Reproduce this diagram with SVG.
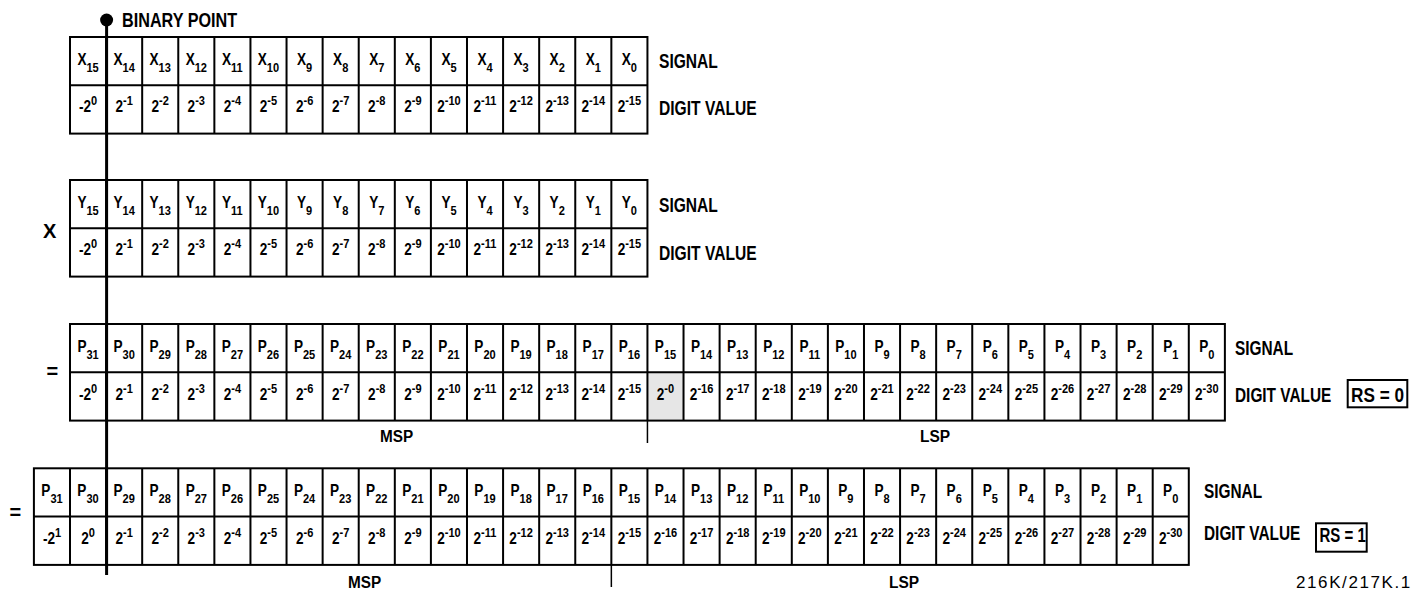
<svg xmlns="http://www.w3.org/2000/svg" xmlns:xlink="http://www.w3.org/1999/xlink" width="1419" height="593" viewBox="0 0 1419 593">
<style>
.g{fill:none;stroke:#000;stroke-width:2}
.c{font-family:"Liberation Sans",Arial,sans-serif;font-weight:bold;font-size:16px;text-anchor:middle;fill:#000}
.s{font-size:13px}
.b{font-family:"Liberation Sans",Arial,sans-serif;font-weight:bold;font-size:20px;fill:#000}
.m{font-size:17px}
.n{font-family:"Liberation Sans",Arial,sans-serif;font-size:17px;letter-spacing:1.6px;fill:#000}
</style>
<defs>
<path id="v16" fill="none" stroke="#000" stroke-width="2" d="M36.09 0v96.6M72.18 0v96.6M108.27 0v96.6M144.36 0v96.6M180.45 0v96.6M216.54 0v96.6M252.63 0v96.6M288.72 0v96.6M324.81 0v96.6M360.9 0v96.6M396.99 0v96.6M433.08 0v96.6M469.17 0v96.6M505.26 0v96.6M541.35 0v96.6"/>
</defs>
<rect width="1419" height="593" fill="#fff"/>

<g id="row-x">
<rect class="g" x="70" y="37" width="577.44" height="96.6"/>
<path class="g" d="M70 85.3H647.44"/>
<use href="#v16" xlink:href="#v16" x="70" y="37"/>
<g transform="scale(0.85 1)">
<text class="c" x="103.65" y="65">X<tspan class="s" dy="7">15</tspan></text>
<text class="c" x="146" y="65">X<tspan class="s" dy="7">14</tspan></text>
<text class="c" x="188.47" y="65">X<tspan class="s" dy="7">13</tspan></text>
<text class="c" x="230.94" y="65">X<tspan class="s" dy="7">12</tspan></text>
<text class="c" x="273.41" y="65">X<tspan class="s" dy="7">11</tspan></text>
<text class="c" x="315.88" y="65">X<tspan class="s" dy="7">10</tspan></text>
<text class="c" x="358.35" y="65">X<tspan class="s" dy="7">9</tspan></text>
<text class="c" x="400.82" y="65">X<tspan class="s" dy="7">8</tspan></text>
<text class="c" x="443.29" y="65">X<tspan class="s" dy="7">7</tspan></text>
<text class="c" x="485.76" y="65">X<tspan class="s" dy="7">6</tspan></text>
<text class="c" x="528.24" y="65">X<tspan class="s" dy="7">5</tspan></text>
<text class="c" x="570.59" y="65">X<tspan class="s" dy="7">4</tspan></text>
<text class="c" x="613.06" y="65">X<tspan class="s" dy="7">3</tspan></text>
<text class="c" x="655.53" y="65">X<tspan class="s" dy="7">2</tspan></text>
<text class="c" x="698" y="65">X<tspan class="s" dy="7">1</tspan></text>
<text class="c" x="740.47" y="65">X<tspan class="s" dy="7">0</tspan></text>
<text class="c" x="103.65" y="112">-2<tspan class="s" dy="-7">0</tspan></text>
<text class="c" x="146" y="112">2<tspan class="s" dy="-7">-1</tspan></text>
<text class="c" x="188.47" y="112">2<tspan class="s" dy="-7">-2</tspan></text>
<text class="c" x="230.94" y="112">2<tspan class="s" dy="-7">-3</tspan></text>
<text class="c" x="273.41" y="112">2<tspan class="s" dy="-7">-4</tspan></text>
<text class="c" x="315.88" y="112">2<tspan class="s" dy="-7">-5</tspan></text>
<text class="c" x="358.35" y="112">2<tspan class="s" dy="-7">-6</tspan></text>
<text class="c" x="400.82" y="112">2<tspan class="s" dy="-7">-7</tspan></text>
<text class="c" x="443.29" y="112">2<tspan class="s" dy="-7">-8</tspan></text>
<text class="c" x="485.76" y="112">2<tspan class="s" dy="-7">-9</tspan></text>
<text class="c" x="528.24" y="112">2<tspan class="s" dy="-7">-10</tspan></text>
<text class="c" x="570.59" y="112">2<tspan class="s" dy="-7">-11</tspan></text>
<text class="c" x="613.06" y="112">2<tspan class="s" dy="-7">-12</tspan></text>
<text class="c" x="655.53" y="112">2<tspan class="s" dy="-7">-13</tspan></text>
<text class="c" x="698" y="112">2<tspan class="s" dy="-7">-14</tspan></text>
<text class="c" x="740.47" y="112">2<tspan class="s" dy="-7">-15</tspan></text>
</g>
</g>

<g id="row-y" transform="translate(0,143)">
<rect class="g" x="70" y="37" width="577.44" height="96.6"/>
<path class="g" d="M70 85.3H647.44"/>
<use href="#v16" xlink:href="#v16" x="70" y="37"/>
<g transform="scale(0.85 1)">
<text class="c" x="103.65" y="65">Y<tspan class="s" dy="7">15</tspan></text>
<text class="c" x="146" y="65">Y<tspan class="s" dy="7">14</tspan></text>
<text class="c" x="188.47" y="65">Y<tspan class="s" dy="7">13</tspan></text>
<text class="c" x="230.94" y="65">Y<tspan class="s" dy="7">12</tspan></text>
<text class="c" x="273.41" y="65">Y<tspan class="s" dy="7">11</tspan></text>
<text class="c" x="315.88" y="65">Y<tspan class="s" dy="7">10</tspan></text>
<text class="c" x="358.35" y="65">Y<tspan class="s" dy="7">9</tspan></text>
<text class="c" x="400.82" y="65">Y<tspan class="s" dy="7">8</tspan></text>
<text class="c" x="443.29" y="65">Y<tspan class="s" dy="7">7</tspan></text>
<text class="c" x="485.76" y="65">Y<tspan class="s" dy="7">6</tspan></text>
<text class="c" x="528.24" y="65">Y<tspan class="s" dy="7">5</tspan></text>
<text class="c" x="570.59" y="65">Y<tspan class="s" dy="7">4</tspan></text>
<text class="c" x="613.06" y="65">Y<tspan class="s" dy="7">3</tspan></text>
<text class="c" x="655.53" y="65">Y<tspan class="s" dy="7">2</tspan></text>
<text class="c" x="698" y="65">Y<tspan class="s" dy="7">1</tspan></text>
<text class="c" x="740.47" y="65">Y<tspan class="s" dy="7">0</tspan></text>
<text class="c" x="103.65" y="112">-2<tspan class="s" dy="-7">0</tspan></text>
<text class="c" x="146" y="112">2<tspan class="s" dy="-7">-1</tspan></text>
<text class="c" x="188.47" y="112">2<tspan class="s" dy="-7">-2</tspan></text>
<text class="c" x="230.94" y="112">2<tspan class="s" dy="-7">-3</tspan></text>
<text class="c" x="273.41" y="112">2<tspan class="s" dy="-7">-4</tspan></text>
<text class="c" x="315.88" y="112">2<tspan class="s" dy="-7">-5</tspan></text>
<text class="c" x="358.35" y="112">2<tspan class="s" dy="-7">-6</tspan></text>
<text class="c" x="400.82" y="112">2<tspan class="s" dy="-7">-7</tspan></text>
<text class="c" x="443.29" y="112">2<tspan class="s" dy="-7">-8</tspan></text>
<text class="c" x="485.76" y="112">2<tspan class="s" dy="-7">-9</tspan></text>
<text class="c" x="528.24" y="112">2<tspan class="s" dy="-7">-10</tspan></text>
<text class="c" x="570.59" y="112">2<tspan class="s" dy="-7">-11</tspan></text>
<text class="c" x="613.06" y="112">2<tspan class="s" dy="-7">-12</tspan></text>
<text class="c" x="655.53" y="112">2<tspan class="s" dy="-7">-13</tspan></text>
<text class="c" x="698" y="112">2<tspan class="s" dy="-7">-14</tspan></text>
<text class="c" x="740.47" y="112">2<tspan class="s" dy="-7">-15</tspan></text>
</g>
</g>

<g id="row-p-rs0">
<rect x="647.44" y="372.3" width="36.09" height="48.3" fill="#e6e6e6"/>
<rect class="g" x="70" y="324" width="1154.88" height="96.6"/>
<path class="g" d="M70 372.3H1224.88M647.44 324v96.6"/>
<use href="#v16" xlink:href="#v16" x="70" y="324"/>
<use href="#v16" xlink:href="#v16" x="647.44" y="324"/>
<g transform="scale(0.85 1)">
<text class="c" x="103.65" y="352">P<tspan class="s" dy="7">31</tspan></text>
<text class="c" x="146" y="352">P<tspan class="s" dy="7">30</tspan></text>
<text class="c" x="188.47" y="352">P<tspan class="s" dy="7">29</tspan></text>
<text class="c" x="230.94" y="352">P<tspan class="s" dy="7">28</tspan></text>
<text class="c" x="273.41" y="352">P<tspan class="s" dy="7">27</tspan></text>
<text class="c" x="315.88" y="352">P<tspan class="s" dy="7">26</tspan></text>
<text class="c" x="358.35" y="352">P<tspan class="s" dy="7">25</tspan></text>
<text class="c" x="400.82" y="352">P<tspan class="s" dy="7">24</tspan></text>
<text class="c" x="443.29" y="352">P<tspan class="s" dy="7">23</tspan></text>
<text class="c" x="485.76" y="352">P<tspan class="s" dy="7">22</tspan></text>
<text class="c" x="528.24" y="352">P<tspan class="s" dy="7">21</tspan></text>
<text class="c" x="570.59" y="352">P<tspan class="s" dy="7">20</tspan></text>
<text class="c" x="613.06" y="352">P<tspan class="s" dy="7">19</tspan></text>
<text class="c" x="655.53" y="352">P<tspan class="s" dy="7">18</tspan></text>
<text class="c" x="698" y="352">P<tspan class="s" dy="7">17</tspan></text>
<text class="c" x="740.47" y="352">P<tspan class="s" dy="7">16</tspan></text>
<text class="c" x="782.94" y="352">P<tspan class="s" dy="7">15</tspan></text>
<text class="c" x="825.41" y="352">P<tspan class="s" dy="7">14</tspan></text>
<text class="c" x="867.88" y="352">P<tspan class="s" dy="7">13</tspan></text>
<text class="c" x="910.35" y="352">P<tspan class="s" dy="7">12</tspan></text>
<text class="c" x="952.82" y="352">P<tspan class="s" dy="7">11</tspan></text>
<text class="c" x="995.18" y="352">P<tspan class="s" dy="7">10</tspan></text>
<text class="c" x="1037.65" y="352">P<tspan class="s" dy="7">9</tspan></text>
<text class="c" x="1080.12" y="352">P<tspan class="s" dy="7">8</tspan></text>
<text class="c" x="1122.59" y="352">P<tspan class="s" dy="7">7</tspan></text>
<text class="c" x="1165.06" y="352">P<tspan class="s" dy="7">6</tspan></text>
<text class="c" x="1207.53" y="352">P<tspan class="s" dy="7">5</tspan></text>
<text class="c" x="1250" y="352">P<tspan class="s" dy="7">4</tspan></text>
<text class="c" x="1292.47" y="352">P<tspan class="s" dy="7">3</tspan></text>
<text class="c" x="1334.94" y="352">P<tspan class="s" dy="7">2</tspan></text>
<text class="c" x="1377.41" y="352">P<tspan class="s" dy="7">1</tspan></text>
<text class="c" x="1419.76" y="352">P<tspan class="s" dy="7">0</tspan></text>
<text class="c" x="103.65" y="400">-2<tspan class="s" dy="-7">0</tspan></text>
<text class="c" x="146" y="400">2<tspan class="s" dy="-7">-1</tspan></text>
<text class="c" x="188.47" y="400">2<tspan class="s" dy="-7">-2</tspan></text>
<text class="c" x="230.94" y="400">2<tspan class="s" dy="-7">-3</tspan></text>
<text class="c" x="273.41" y="400">2<tspan class="s" dy="-7">-4</tspan></text>
<text class="c" x="315.88" y="400">2<tspan class="s" dy="-7">-5</tspan></text>
<text class="c" x="358.35" y="400">2<tspan class="s" dy="-7">-6</tspan></text>
<text class="c" x="400.82" y="400">2<tspan class="s" dy="-7">-7</tspan></text>
<text class="c" x="443.29" y="400">2<tspan class="s" dy="-7">-8</tspan></text>
<text class="c" x="485.76" y="400">2<tspan class="s" dy="-7">-9</tspan></text>
<text class="c" x="528.24" y="400">2<tspan class="s" dy="-7">-10</tspan></text>
<text class="c" x="570.59" y="400">2<tspan class="s" dy="-7">-11</tspan></text>
<text class="c" x="613.06" y="400">2<tspan class="s" dy="-7">-12</tspan></text>
<text class="c" x="655.53" y="400">2<tspan class="s" dy="-7">-13</tspan></text>
<text class="c" x="698" y="400">2<tspan class="s" dy="-7">-14</tspan></text>
<text class="c" x="740.47" y="400">2<tspan class="s" dy="-7">-15</tspan></text>
<text class="c" x="782.94" y="400" font-size="17">2<tspan class="s" dy="-7">-0</tspan></text>
<text class="c" x="825.41" y="400">2<tspan class="s" dy="-7">-16</tspan></text>
<text class="c" x="867.88" y="400">2<tspan class="s" dy="-7">-17</tspan></text>
<text class="c" x="910.35" y="400">2<tspan class="s" dy="-7">-18</tspan></text>
<text class="c" x="952.82" y="400">2<tspan class="s" dy="-7">-19</tspan></text>
<text class="c" x="995.18" y="400">2<tspan class="s" dy="-7">-20</tspan></text>
<text class="c" x="1037.65" y="400">2<tspan class="s" dy="-7">-21</tspan></text>
<text class="c" x="1080.12" y="400">2<tspan class="s" dy="-7">-22</tspan></text>
<text class="c" x="1122.59" y="400">2<tspan class="s" dy="-7">-23</tspan></text>
<text class="c" x="1165.06" y="400">2<tspan class="s" dy="-7">-24</tspan></text>
<text class="c" x="1207.53" y="400">2<tspan class="s" dy="-7">-25</tspan></text>
<text class="c" x="1250" y="400">2<tspan class="s" dy="-7">-26</tspan></text>
<text class="c" x="1292.47" y="400">2<tspan class="s" dy="-7">-27</tspan></text>
<text class="c" x="1334.94" y="400">2<tspan class="s" dy="-7">-28</tspan></text>
<text class="c" x="1377.41" y="400">2<tspan class="s" dy="-7">-29</tspan></text>
<text class="c" x="1419.76" y="400">2<tspan class="s" dy="-7">-30</tspan></text>
</g>
</g>

<g id="row-p-rs1" transform="translate(-36.09,144.3)">
<rect class="g" x="70" y="324" width="1154.88" height="96.6"/>
<path class="g" d="M70 372.3H1224.88M647.44 324v96.6"/>
<use href="#v16" xlink:href="#v16" x="70" y="324"/>
<use href="#v16" xlink:href="#v16" x="647.44" y="324"/>
<g transform="scale(0.85 1)">
<text class="c" x="103.65" y="352">P<tspan class="s" dy="7">31</tspan></text>
<text class="c" x="146" y="352">P<tspan class="s" dy="7">30</tspan></text>
<text class="c" x="188.47" y="352">P<tspan class="s" dy="7">29</tspan></text>
<text class="c" x="230.94" y="352">P<tspan class="s" dy="7">28</tspan></text>
<text class="c" x="273.41" y="352">P<tspan class="s" dy="7">27</tspan></text>
<text class="c" x="315.88" y="352">P<tspan class="s" dy="7">26</tspan></text>
<text class="c" x="358.35" y="352">P<tspan class="s" dy="7">25</tspan></text>
<text class="c" x="400.82" y="352">P<tspan class="s" dy="7">24</tspan></text>
<text class="c" x="443.29" y="352">P<tspan class="s" dy="7">23</tspan></text>
<text class="c" x="485.76" y="352">P<tspan class="s" dy="7">22</tspan></text>
<text class="c" x="528.24" y="352">P<tspan class="s" dy="7">21</tspan></text>
<text class="c" x="570.59" y="352">P<tspan class="s" dy="7">20</tspan></text>
<text class="c" x="613.06" y="352">P<tspan class="s" dy="7">19</tspan></text>
<text class="c" x="655.53" y="352">P<tspan class="s" dy="7">18</tspan></text>
<text class="c" x="698" y="352">P<tspan class="s" dy="7">17</tspan></text>
<text class="c" x="740.47" y="352">P<tspan class="s" dy="7">16</tspan></text>
<text class="c" x="782.94" y="352">P<tspan class="s" dy="7">15</tspan></text>
<text class="c" x="825.41" y="352">P<tspan class="s" dy="7">14</tspan></text>
<text class="c" x="867.88" y="352">P<tspan class="s" dy="7">13</tspan></text>
<text class="c" x="910.35" y="352">P<tspan class="s" dy="7">12</tspan></text>
<text class="c" x="952.82" y="352">P<tspan class="s" dy="7">11</tspan></text>
<text class="c" x="995.18" y="352">P<tspan class="s" dy="7">10</tspan></text>
<text class="c" x="1037.65" y="352">P<tspan class="s" dy="7">9</tspan></text>
<text class="c" x="1080.12" y="352">P<tspan class="s" dy="7">8</tspan></text>
<text class="c" x="1122.59" y="352">P<tspan class="s" dy="7">7</tspan></text>
<text class="c" x="1165.06" y="352">P<tspan class="s" dy="7">6</tspan></text>
<text class="c" x="1207.53" y="352">P<tspan class="s" dy="7">5</tspan></text>
<text class="c" x="1250" y="352">P<tspan class="s" dy="7">4</tspan></text>
<text class="c" x="1292.47" y="352">P<tspan class="s" dy="7">3</tspan></text>
<text class="c" x="1334.94" y="352">P<tspan class="s" dy="7">2</tspan></text>
<text class="c" x="1377.41" y="352">P<tspan class="s" dy="7">1</tspan></text>
<text class="c" x="1419.76" y="352">P<tspan class="s" dy="7">0</tspan></text>
<text class="c" x="103.65" y="400">-2<tspan class="s" dy="-7">1</tspan></text>
<text class="c" x="146" y="400">2<tspan class="s" dy="-7">0</tspan></text>
<text class="c" x="188.47" y="400">2<tspan class="s" dy="-7">-1</tspan></text>
<text class="c" x="230.94" y="400">2<tspan class="s" dy="-7">-2</tspan></text>
<text class="c" x="273.41" y="400">2<tspan class="s" dy="-7">-3</tspan></text>
<text class="c" x="315.88" y="400">2<tspan class="s" dy="-7">-4</tspan></text>
<text class="c" x="358.35" y="400">2<tspan class="s" dy="-7">-5</tspan></text>
<text class="c" x="400.82" y="400">2<tspan class="s" dy="-7">-6</tspan></text>
<text class="c" x="443.29" y="400">2<tspan class="s" dy="-7">-7</tspan></text>
<text class="c" x="485.76" y="400">2<tspan class="s" dy="-7">-8</tspan></text>
<text class="c" x="528.24" y="400">2<tspan class="s" dy="-7">-9</tspan></text>
<text class="c" x="570.59" y="400">2<tspan class="s" dy="-7">-10</tspan></text>
<text class="c" x="613.06" y="400">2<tspan class="s" dy="-7">-11</tspan></text>
<text class="c" x="655.53" y="400">2<tspan class="s" dy="-7">-12</tspan></text>
<text class="c" x="698" y="400">2<tspan class="s" dy="-7">-13</tspan></text>
<text class="c" x="740.47" y="400">2<tspan class="s" dy="-7">-14</tspan></text>
<text class="c" x="782.94" y="400">2<tspan class="s" dy="-7">-15</tspan></text>
<text class="c" x="825.41" y="400">2<tspan class="s" dy="-7">-16</tspan></text>
<text class="c" x="867.88" y="400">2<tspan class="s" dy="-7">-17</tspan></text>
<text class="c" x="910.35" y="400">2<tspan class="s" dy="-7">-18</tspan></text>
<text class="c" x="952.82" y="400">2<tspan class="s" dy="-7">-19</tspan></text>
<text class="c" x="995.18" y="400">2<tspan class="s" dy="-7">-20</tspan></text>
<text class="c" x="1037.65" y="400">2<tspan class="s" dy="-7">-21</tspan></text>
<text class="c" x="1080.12" y="400">2<tspan class="s" dy="-7">-22</tspan></text>
<text class="c" x="1122.59" y="400">2<tspan class="s" dy="-7">-23</tspan></text>
<text class="c" x="1165.06" y="400">2<tspan class="s" dy="-7">-24</tspan></text>
<text class="c" x="1207.53" y="400">2<tspan class="s" dy="-7">-25</tspan></text>
<text class="c" x="1250" y="400">2<tspan class="s" dy="-7">-26</tspan></text>
<text class="c" x="1292.47" y="400">2<tspan class="s" dy="-7">-27</tspan></text>
<text class="c" x="1334.94" y="400">2<tspan class="s" dy="-7">-28</tspan></text>
<text class="c" x="1377.41" y="400">2<tspan class="s" dy="-7">-29</tspan></text>
<text class="c" x="1419.76" y="400">2<tspan class="s" dy="-7">-30</tspan></text>
</g>
</g>

<g id="connectors">
<line x1="106.6" y1="20" x2="106.6" y2="575" stroke="#000" stroke-width="3"/>
<circle cx="106.6" cy="20" r="6.5" fill="#000"/>
<line x1="647.44" y1="420.6" x2="647.44" y2="443" stroke="#000" stroke-width="1.5"/>
<line x1="611.35" y1="565" x2="611.35" y2="587" stroke="#000" stroke-width="1.5"/>
</g>

<g id="labels">
<text class="b" font-size="19" transform="translate(122 27) scale(0.81 1)">BINARY POINT</text>
<text class="b" transform="translate(659 68) scale(0.78 1)">SIGNAL</text>
<text class="b" transform="translate(659 115) scale(0.78 1)">DIGIT VALUE</text>
<text class="b" x="43" y="238">X</text>
<text class="b" transform="translate(659 212) scale(0.78 1)">SIGNAL</text>
<text class="b" transform="translate(659 260) scale(0.78 1)">DIGIT VALUE</text>
<text class="b" x="46.5" y="378">=</text>
<text class="b" transform="translate(1235 355) scale(0.77 1)">SIGNAL</text>
<text class="b" transform="translate(1235 402) scale(0.77 1)">DIGIT VALUE</text>
<rect x="1347.7" y="380" width="59.6" height="27.3" fill="none" stroke="#000" stroke-width="2"/>
<text class="b" transform="translate(1351 401.5) scale(0.86 1)">RS = 0</text>
<text class="b m" transform="translate(380 442) scale(0.9 1)">MSP</text>
<text class="b m" transform="translate(920 442) scale(0.91 1)">LSP</text>
<text class="b" x="9.5" y="519">=</text>
<text class="b" transform="translate(1204 498) scale(0.77 1)">SIGNAL</text>
<text class="b" transform="translate(1204 540) scale(0.77 1)">DIGIT VALUE</text>
<rect x="1316" y="523.3" width="50.7" height="28.4" fill="none" stroke="#000" stroke-width="2"/>
<text class="b" font-size="19" transform="translate(1319.5 542) scale(0.75 1)">RS = 1</text>
<text class="b m" transform="translate(348 588) scale(0.9 1)">MSP</text>
<text class="b m" transform="translate(889 588) scale(0.91 1)">LSP</text>
<text class="n" x="1296" y="588">216K/217K.1</text>
</g>
</svg>
